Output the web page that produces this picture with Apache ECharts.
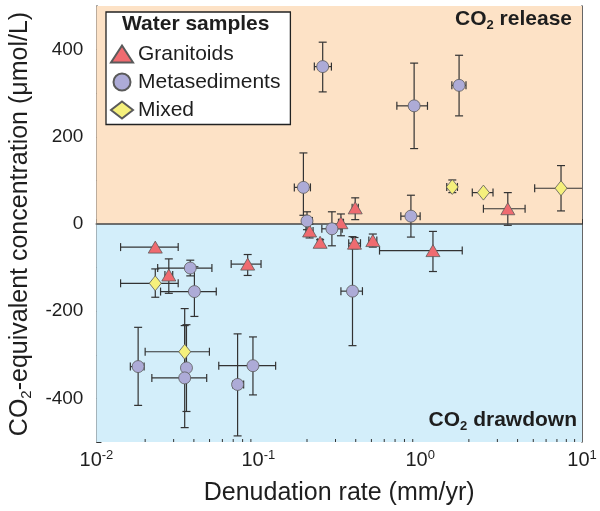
<!DOCTYPE html>
<html>
<head>
<meta charset="utf-8">
<script src="https://cdn.jsdelivr.net/npm/echarts@6/dist/echarts.min.js"></script>
<style>html,body{margin:0;padding:0;background:#fff;}#c{width:600px;height:511px;}</style>
</head>
<body>
<div id="c"></div>
<script>
// Each row: [denudation rate, CO2 conc, xLow, xHigh, yLow, yHigh]
const granitoids = [
  [0.0231, -53, 0.0141, 0.0320, -53, -53],
  [0.028, -117, 0.0265, 0.0296, -159, -80],
  [0.086, -92, 0.068, 0.104, -118, -70],
  [0.2075, -16, 0.197, 0.218, -32, 0],
  [0.241, -42, 0.232, 0.250, -48, -36],
  [0.324, 3, 0.313, 0.336, -27, 23],
  [0.397, 37, 0.380, 0.415, 10, 60],
  [0.393, -44, 0.362, 0.428, -57, -31],
  [0.51, -38, 0.482, 0.540, -53, -23],
  [1.2, -61, 0.561, 1.82, -109, -17],
  [3.48, 35, 2.46, 4.45, -3, 72]
];
const metasediments = [
  [0.25, 361, 0.222, 0.283, 303, 417],
  [0.918, 271, 0.718, 1.11, 173, 369],
  [1.74, 318, 1.57, 1.92, 248, 387],
  [0.19, 84, 0.167, 0.21, 20, 163],
  [0.2, 7, 0.188, 0.216, -13, 28],
  [0.285, -11, 0.247, 0.33, -50, 28],
  [0.877, 18, 0.76, 1.0, -30, 66],
  [0.038, -101, 0.0239, 0.0517, -119, -83],
  [0.0403, -155, 0.0249, 0.055, -212, -98],
  [0.382, -154, 0.324, 0.44, -279, -29],
  [0.0181, -327, 0.0162, 0.0197, -416, -237],
  [0.036, -330, 0.0345, 0.0375, -430, -231],
  [0.0351, -353, 0.022, 0.048, -467, -194],
  [0.0745, -368, 0.0696, 0.0812, -486, -252],
  [0.0927, -325, 0.057, 0.128, -392, -259]
];
const mixed = [
  [1.58, 85, 1.46, 1.70, 72, 101],
  [2.46, 72, 2.1, 2.82, 72, 72],
  [7.42, 82, 5.1, 10.7, 30, 134],
  [0.0231, -136, 0.0141, 0.032, -168, -103],
  [0.0351, -293, 0.02, 0.0499, -353, -233]
];
const groupNames = ['Granitoids', 'Metasediments', 'Mixed'];
const yTickLabels = [-400, -200, 0, 200, 400];
const xDecades = [0.01, 0.1, 1, 10];

const minorTicks = [];
for (let d = 0; d < xDecades.length - 1; d++) {
  for (let k = 2; k <= 9; k++) minorTicks.push([xDecades[d] * k, -500]);
}

const FONT = 'Liberation Sans, Arial, sans-serif';
const LINE = '#333';
const TXT = '#1e1e1e';

function clampX(px, cs) { return Math.max(cs.x, Math.min(cs.x + cs.width, px)); }

function renderErr(params, api) {
  const cs = params.coordSys;
  const x = api.value(0), y = api.value(1);
  const c = api.coord([x, y]);
  const xl = api.coord([api.value(2), y])[0];
  const xh = api.coord([api.value(3), y])[0];
  const yl = api.coord([x, api.value(4)])[1];
  const yh = api.coord([x, api.value(5)])[1];
  const cap = 4;
  const st = { stroke: LINE, lineWidth: 1.2 };
  const ch = [];
  const inside = v => v >= cs.x - 0.5 && v <= cs.x + cs.width + 0.5;
  if (Math.abs(yh - yl) > 1) {
    ch.push({ type: 'line', shape: { x1: c[0], y1: yl, x2: c[0], y2: yh }, style: st });
    ch.push({ type: 'line', shape: { x1: c[0] - cap, y1: yl, x2: c[0] + cap, y2: yl }, style: st });
    ch.push({ type: 'line', shape: { x1: c[0] - cap, y1: yh, x2: c[0] + cap, y2: yh }, style: st });
  }
  if (Math.abs(xh - xl) > 1) {
    ch.push({ type: 'line', shape: { x1: clampX(xl, cs), y1: c[1], x2: clampX(xh, cs), y2: c[1] }, style: st });
    if (inside(xl)) ch.push({ type: 'line', shape: { x1: xl, y1: c[1] - cap, x2: xl, y2: c[1] + cap }, style: st });
    if (inside(xh)) ch.push({ type: 'line', shape: { x1: xh, y1: c[1] - cap, x2: xh, y2: c[1] + cap }, style: st });
  }
  return { type: 'group', children: ch };
}

function renderMinor(params, api) {
  const p = api.coord([api.value(0), api.value(1)]);
  return { type: 'line', shape: { x1: p[0], y1: p[1], x2: p[0], y2: p[1] - 3 }, style: { stroke: LINE, lineWidth: 1 } };
}

function errSeries(name, data) {
  return { type: 'custom', name: name + ' err', renderItem: renderErr, data: data,
           encode: { x: 0, y: 1 }, z: 3, silent: true, clip: true };
}

const markerStyle = { borderColor: '#5a5a5a', borderWidth: 0.8, opacity: 1 };

const option = {
  animation: false,
  backgroundColor: '#fff',
  textStyle: { fontFamily: FONT },
  grid: { left: 96, right: 18, top: 6, bottom: 69 },
  xAxis: [{
    type: 'log', logBase: 10, min: 0.01, max: 10,
    name: 'Denudation rate (mm/yr)', nameLocation: 'middle', nameGap: 39,
    nameTextStyle: { fontSize: 25, color: TXT, fontFamily: FONT },
    axisLine: { show: true, lineStyle: { color: LINE, width: 1.5 } },
    axisTick: { show: true, inside: true, length: 5, lineStyle: { color: LINE } },
    splitLine: { show: false },
    axisLabel: {
      margin: 7, color: TXT,
      formatter: v => '{b|10}{p|' + Math.round(Math.log10(v)) + '}',
      rich: { b: { fontSize: 20, fontFamily: FONT, color: TXT },
              p: { fontSize: 13, fontFamily: FONT, color: TXT, padding: [0, 0, 10, 0] } }
    }
  }, {
    type: 'log', logBase: 10, min: 0.01, max: 10, position: 'top',
    axisLine: { show: true, lineStyle: { color: LINE, width: 1.5 } },
    axisTick: { show: false }, axisLabel: { show: false }, splitLine: { show: false }
  }],
  yAxis: [{
    type: 'value', min: -500, max: 500, interval: 100,
    name: '{a|CO}{s|2}{a|-equivalent concentration (μmol/L)}',
    nameLocation: 'middle', nameGap: 60,
    nameTextStyle: { rich: {
      a: { fontSize: 25, fontFamily: FONT, color: TXT },
      s: { fontSize: 15, fontFamily: FONT, color: TXT, padding: [13, 0, 0, 0] } } },
    axisLine: { show: true, lineStyle: { color: LINE, width: 1.5 } },
    axisTick: { show: true, inside: true, length: 5, lineStyle: { color: LINE } },
    splitLine: { show: false },
    axisLabel: {
      margin: 13, fontSize: 19, color: TXT, fontFamily: FONT,
      formatter: v => yTickLabels.indexOf(v) >= 0 ? String(v) : ''
    }
  }, {
    type: 'value', min: -500, max: 500, position: 'right',
    axisLine: { show: true, lineStyle: { color: LINE, width: 1.5 } },
    axisTick: { show: false }, axisLabel: { show: false }, splitLine: { show: false }
  }],
  legend: {
    data: groupNames,
    orient: 'vertical', left: 106, top: 12,
    padding: [31.5, 10, 4, 4],
    itemWidth: 22, itemHeight: 17, itemGap: 7,
    backgroundColor: '#fff', borderColor: '#222', borderWidth: 1.3, borderRadius: 0,
    textStyle: { fontSize: 21, color: TXT, fontFamily: FONT },
    z: 10
  },
  graphic: [
    { type: 'text', left: 122, top: 14, z: 100,
      style: { text: 'Water samples', font: 'bold 21px ' + FONT, fill: TXT } },
    { type: 'text', right: 28, top: 9, z: 100,
      style: { text: '{a|CO}{s|2}{a| release}', fill: TXT,
        rich: { a: { font: 'bold 21px ' + FONT, fill: TXT },
                s: { font: 'bold 13px ' + FONT, fill: TXT, padding: [12, 0, 0, 0] } } } },
    { type: 'text', right: 23, top: 410, z: 100,
      style: { text: '{a|CO}{s|2}{a| drawdown}', fill: TXT,
        rich: { a: { font: 'bold 21px ' + FONT, fill: TXT },
                s: { font: 'bold 13px ' + FONT, fill: TXT, padding: [12, 0, 0, 0] } } } }
  ],
  series: [
    { type: 'line', name: 'bg', data: [], z: 1, silent: true,
      markArea: { silent: true, data: [
        [{ yAxis: 0, itemStyle: { color: '#fde2c6' } }, { yAxis: 500 }],
        [{ yAxis: -500, itemStyle: { color: '#d3eefa' } }, { yAxis: 0 }]
      ] },
      markLine: { silent: true, symbol: 'none', label: { show: false },
        lineStyle: { color: '#444', width: 1.5, type: 'solid' },
        data: [{ yAxis: 0 }] }
    },
    { type: 'custom', name: 'minor', renderItem: renderMinor, data: minorTicks,
      encode: { x: 0, y: 1 }, z: 2, silent: true },
    errSeries('Granitoids', granitoids),
    errSeries('Metasediments', metasediments),
    errSeries('Mixed', mixed),
    { type: 'scatter', name: 'Granitoids', data: granitoids, encode: { x: 0, y: 1 },
      symbol: 'triangle', symbolSize: [14, 12], z: 5,
      itemStyle: Object.assign({ color: '#ef6b70' }, markerStyle) },
    { type: 'scatter', name: 'Metasediments', data: metasediments, encode: { x: 0, y: 1 },
      symbol: 'circle', symbolSize: 12, z: 5,
      itemStyle: Object.assign({ color: '#adabd7' }, markerStyle) },
    { type: 'scatter', name: 'Mixed', data: mixed, encode: { x: 0, y: 1 },
      symbol: 'diamond', symbolSize: [12, 15], z: 5,
      itemStyle: Object.assign({ color: '#f5f07c' }, markerStyle) }
  ]
};

const chart = echarts.init(document.getElementById('c'), null, { renderer: 'canvas' });
chart.setOption(option);
</script>
</body>
</html>
